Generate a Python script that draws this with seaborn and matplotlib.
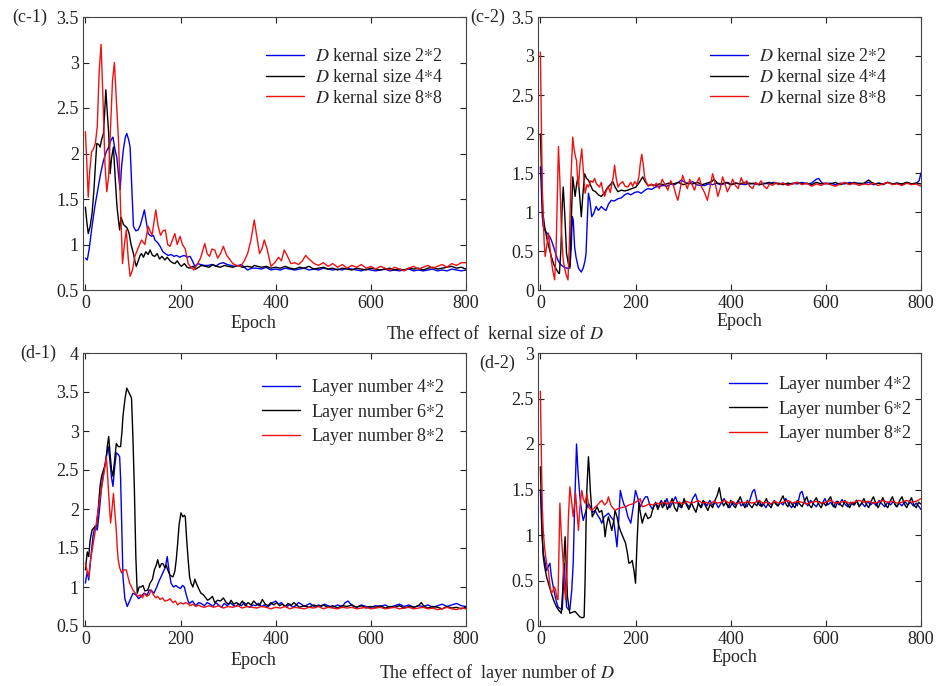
import pandas as pd
import seaborn as sns
import matplotlib.pyplot as plt
from matplotlib.ticker import FuncFormatter, MultipleLocator

# (epoch, loss)
c1_blue = [(0,0.85),(4,0.83),(8,0.95),(14,1.2),(20,1.42),(26,1.6),(32,1.78),(38,1.92),(44,2.02),(49,2.07),(54,2.15),(58,2.18),(62,2.05),(66,1.96),(70,1.75),(73,1.6),(76,1.85),(80,2.05),(84,2.18),(87,2.22),(91,2.15),(94,2.07),(97,1.7),(101,1.2),(106,1.15),(111,1.16),(116,1.22),(120,1.3),(124,1.38),(128,1.25),(132,1.12),(136,1.1),(139,1.09),(143,1.1),(146,1.05),(152,1.02),(157,0.98),(163,0.92),(168,0.9),(174,0.88),(180,0.89),(186,0.87),(192,0.88),(198,0.86),(202,0.87),(208,0.88),(214,0.86),(220,0.87),(225,0.82),(230,0.76),(236,0.79),(242,0.78),(250,0.77),(258,0.77),(266,0.78),(274,0.76),(282,0.79),(290,0.8),(298,0.78),(306,0.77),(314,0.76),(322,0.77),(328,0.78),(334,0.75),(341,0.72),(350,0.74),(360,0.74),(370,0.73),(380,0.75),(390,0.72),(400,0.73),(410,0.72),(420,0.74),(430,0.73),(440,0.72),(450,0.73),(460,0.74),(470,0.72),(480,0.73),(490,0.72),(500,0.74),(510,0.73),(520,0.72),(530,0.73),(540,0.72),(550,0.74),(560,0.73),(570,0.72),(580,0.71),(590,0.73),(600,0.72),(610,0.71),(620,0.72),(630,0.73),(640,0.71),(650,0.72),(660,0.71),(670,0.72),(680,0.73),(690,0.71),(700,0.72),(710,0.71),(720,0.72),(730,0.73),(740,0.71),(750,0.72),(760,0.71),(770,0.73),(780,0.72),(790,0.71),(800,0.72)]
c1_black = [(0,1.41),(3,1.25),(6,1.12),(10,1.2),(14,1.34),(18,1.6),(22,1.95),(24,2.11),(28,2.1),(31,2.07),(34,2.15),(38,2.22),(41,2.5),(43,2.7),(46,2.45),(49,2.22),(52,1.78),(55,1.95),(59,2.07),(63,1.7),(66,1.45),(68,1.34),(72,1.16),(75,1.3),(77,1.27),(80,1.22),(84,1.2),(88,1.18),(92,1.12),(96,1.0),(101,0.9),(104,0.82),(107,0.76),(111,0.82),(115,0.88),(118,0.9),(122,0.86),(127,0.92),(132,0.89),(136,0.94),(141,0.88),(146,0.87),(151,0.9),(156,0.84),(161,0.87),(167,0.83),(172,0.86),(178,0.82),(183,0.8),(188,0.79),(193,0.82),(198,0.78),(202,0.76),(208,0.79),(214,0.75),(220,0.74),(226,0.76),(232,0.73),(238,0.75),(244,0.77),(252,0.76),(260,0.75),(268,0.78),(276,0.76),(284,0.75),(292,0.77),(300,0.76),(310,0.75),(320,0.77),(330,0.75),(340,0.76),(350,0.75),(355,0.77),(362,0.76),(370,0.75),(380,0.76),(390,0.74),(400,0.75),(410,0.74),(420,0.76),(430,0.74),(440,0.73),(450,0.75),(460,0.74),(470,0.76),(480,0.73),(490,0.74),(500,0.75),(510,0.73),(520,0.74),(530,0.72),(540,0.74),(550,0.73),(560,0.72),(570,0.74),(580,0.73),(590,0.72),(600,0.74),(610,0.73),(620,0.72),(630,0.73),(640,0.74),(650,0.72),(660,0.73),(670,0.72),(680,0.74),(690,0.73),(700,0.74),(710,0.72),(720,0.74),(730,0.75),(740,0.73),(750,0.74),(760,0.75),(770,0.76),(780,0.74),(790,0.75),(800,0.73)]
c1_red = [(0,2.24),(3,1.9),(6,1.52),(9,1.8),(13,2.02),(17,2.05),(21,2.11),(25,2.3),(29,2.9),(33,3.2),(37,2.6),(41,1.9),(45,1.58),(49,1.75),(53,2.3),(57,2.8),(61,3.0),(65,2.6),(70,2.1),(74,1.4),(78,0.79),(82,1.0),(86,1.16),(90,0.85),(94,0.65),(99,0.72),(104,0.87),(110,0.95),(118,1.05),(125,1.0),(132,1.2),(140,1.1),(148,1.38),(153,1.2),(158,1.1),(163,1.15),(168,1.16),(173,1.0),(178,0.98),(183,1.05),(188,1.12),(193,1.0),(199,1.09),(204,1.0),(210,0.95),(216,0.79),(222,0.75),(228,0.72),(235,0.78),(242,0.85),(251,1.01),(256,0.9),(261,0.87),(266,0.95),(272,0.94),(278,0.85),(284,0.9),(290,0.98),(297,0.88),(303,0.84),(310,0.79),(318,0.77),(326,0.76),(334,0.82),(341,0.9),(348,1.05),(355,1.27),(360,1.1),(366,0.9),(371,0.95),(376,1.05),(382,0.95),(390,0.76),(398,0.8),(406,0.86),(412,0.82),(418,0.94),(424,0.88),(432,0.79),(440,0.8),(448,0.78),(456,0.82),(463,0.88),(470,0.84),(481,0.79),(490,0.77),(500,0.8),(510,0.76),(520,0.79),(530,0.75),(540,0.78),(550,0.74),(560,0.77),(570,0.75),(580,0.78),(590,0.74),(600,0.76),(610,0.73),(620,0.76),(630,0.74),(640,0.72),(650,0.75),(660,0.73),(670,0.71),(680,0.74),(690,0.76),(700,0.73),(710,0.75),(720,0.77),(730,0.74),(740,0.76),(750,0.78),(760,0.75),(770,0.79),(780,0.77),(790,0.8),(800,0.8)]

c2_blue = [(0,1.58),(2,1.3),(4,0.95),(6,0.81),(10,0.76),(15,0.72),(20,0.68),(23,0.64),(28,0.55),(33,0.45),(37,0.38),(42,0.33),(48,0.3),(55,0.28),(62,0.28),(65,0.55),(67,0.94),(69,0.9),(72,0.55),(75,0.42),(80,0.28),(86,0.23),(90,0.28),(94,0.38),(96,0.47),(98,0.8),(101,1.24),(104,1.15),(108,0.94),(112,0.98),(117,1.07),(122,1.02),(128,1.07),(133,1.04),(138,1.02),(143,1.1),(149,1.15),(155,1.14),(163,1.17),(170,1.18),(177,1.22),(184,1.24),(190,1.22),(198,1.25),(205,1.26),(212,1.24),(220,1.28),(226,1.3),(234,1.29),(242,1.32),(250,1.33),(258,1.34),(266,1.33),(274,1.36),(282,1.35),(290,1.38),(296,1.41),(304,1.38),(312,1.36),(320,1.39),(328,1.35),(336,1.34),(345,1.34),(354,1.36),(362,1.35),(370,1.37),(378,1.35),(386,1.36),(394,1.38),(402,1.35),(410,1.37),(420,1.36),(430,1.35),(440,1.37),(450,1.36),(460,1.35),(470,1.37),(480,1.36),(490,1.38),(500,1.36),(510,1.37),(520,1.35),(530,1.37),(540,1.36),(550,1.38),(560,1.36),(570,1.37),(580,1.42),(585,1.43),(592,1.37),(600,1.36),(610,1.37),(620,1.35),(630,1.37),(640,1.36),(650,1.38),(660,1.36),(670,1.37),(680,1.36),(690,1.38),(700,1.35),(710,1.37),(720,1.36),(730,1.38),(740,1.36),(750,1.37),(760,1.35),(770,1.38),(780,1.36),(790,1.37),(796,1.4),(800,1.5)]
c2_black = [(0,2.0),(2,1.6),(5,1.0),(9,0.81),(14,0.65),(18,0.55),(23,0.43),(28,0.33),(34,0.26),(38,0.22),(40,0.21),(43,0.5),(46,1.1),(48,1.32),(51,1.0),(55,0.47),(59,0.33),(62,0.3),(65,0.9),(68,1.45),(71,1.3),(73,1.2),(76,1.35),(79,1.45),(82,1.25),(86,0.94),(89,1.2),(93,1.49),(97,1.43),(101,1.41),(105,1.35),(110,1.28),(116,1.26),(122,1.22),(128,1.2),(134,1.24),(142,1.32),(147,1.35),(152,1.39),(157,1.32),(163,1.26),(170,1.28),(177,1.27),(184,1.28),(192,1.3),(201,1.32),(208,1.38),(215,1.45),(220,1.39),(226,1.34),(234,1.35),(242,1.34),(250,1.36),(260,1.35),(270,1.37),(280,1.36),(290,1.38),(300,1.35),(310,1.37),(320,1.36),(330,1.38),(340,1.35),(350,1.37),(360,1.39),(365,1.42),(372,1.37),(380,1.36),(390,1.38),(400,1.35),(410,1.37),(420,1.36),(430,1.38),(440,1.36),(450,1.37),(460,1.35),(470,1.36),(480,1.38),(490,1.36),(500,1.37),(510,1.35),(520,1.37),(530,1.36),(540,1.38),(550,1.36),(560,1.37),(570,1.35),(580,1.38),(590,1.36),(600,1.37),(610,1.36),(620,1.38),(630,1.35),(640,1.37),(650,1.36),(660,1.38),(670,1.36),(680,1.37),(690,1.41),(696,1.38),(704,1.36),(712,1.37),(720,1.35),(730,1.38),(740,1.36),(750,1.37),(760,1.36),(770,1.38),(780,1.36),(790,1.37),(800,1.36)]
c2_red = [(0,3.05),(2,2.2),(4,1.3),(6,0.94),(8,0.6),(10,0.43),(13,0.55),(17,0.73),(20,0.55),(23,0.38),(26,0.25),(30,0.13),(33,0.5),(36,1.3),(38,1.84),(41,1.4),(44,0.8),(48,0.38),(52,0.25),(55,0.18),(58,0.13),(61,0.6),(64,1.4),(68,1.96),(71,1.8),(74,1.7),(76,1.66),(78,1.45),(80,1.32),(83,1.6),(87,1.81),(90,1.55),(94,1.24),(98,1.35),(101,1.32),(106,1.4),(110,1.38),(114,1.43),(118,1.36),(124,1.32),(128,1.38),(132,1.25),(135,1.2),(139,1.28),(143,1.32),(147,1.25),(150,1.35),(153,1.45),(156,1.6),(159,1.45),(163,1.32),(167,1.36),(173,1.39),(178,1.33),(184,1.32),(190,1.38),(194,1.33),(198,1.39),(203,1.35),(207,1.45),(210,1.62),(213,1.74),(216,1.62),(219,1.45),(222,1.39),(227,1.33),(233,1.36),(238,1.33),(244,1.37),(250,1.3),(256,1.42),(262,1.35),(268,1.28),(274,1.4),(280,1.33),(285,1.22),(289,1.15),(294,1.3),(299,1.47),(304,1.38),(309,1.3),(314,1.42),(319,1.35),(324,1.28),(329,1.38),(334,1.44),(339,1.32),(345,1.25),(351,1.15),(356,1.3),(362,1.49),(367,1.38),(373,1.2),(378,1.3),(383,1.45),(388,1.36),(393,1.26),(398,1.32),(404,1.42),(410,1.34),(416,1.3),(422,1.44),(428,1.36),(434,1.4),(440,1.33),(446,1.3),(452,1.38),(458,1.35),(464,1.4),(470,1.33),(476,1.3),(482,1.36),(488,1.34),(494,1.38),(500,1.35),(510,1.37),(520,1.34),(530,1.36),(540,1.38),(550,1.35),(560,1.37),(570,1.33),(580,1.36),(590,1.34),(600,1.37),(610,1.35),(620,1.33),(630,1.36),(640,1.38),(650,1.35),(660,1.37),(670,1.34),(680,1.36),(690,1.35),(700,1.37),(710,1.34),(720,1.36),(730,1.38),(740,1.35),(750,1.36),(760,1.34),(770,1.37),(780,1.35),(790,1.36),(800,1.33)]

d1_blue = [(0,1.05),(4,1.2),(7,1.09),(11,1.35),(16,1.65),(20,1.78),(25,1.73),(29,1.95),(34,2.29),(38,2.45),(42,2.6),(46,2.75),(48,2.8),(51,2.65),(55,2.4),(58,2.29),(61,2.5),(65,2.72),(69,2.7),(72,2.67),(74,2.4),(76,1.9),(79,1.13),(83,0.85),(88,0.75),(93,0.82),(100,0.92),(106,0.9),(112,0.85),(117,0.88),(123,0.92),(130,0.9),(134,0.96),(138,0.96),(144,0.92),(150,1.0),(155,1.08),(159,1.13),(164,1.2),(168,1.25),(172,1.39),(176,1.2),(180,1.05),(185,1.0),(190,1.02),(194,1.0),(200,0.98),(204,1.02),(208,1.0),(212,0.9),(216,0.82),(219,0.79),(225,0.82),(232,0.76),(238,0.8),(243,0.79),(250,0.76),(256,0.8),(262,0.78),(268,0.75),(274,0.8),(280,0.77),(286,0.74),(292,0.79),(298,0.76),(304,0.8),(310,0.77),(316,0.75),(322,0.78),(328,0.76),(334,0.8),(340,0.75),(346,0.74),(352,0.77),(358,0.76),(364,0.79),(370,0.75),(376,0.77),(382,0.74),(388,0.77),(394,0.8),(400,0.82),(406,0.78),(412,0.8),(418,0.76),(424,0.75),(430,0.78),(436,0.74),(442,0.76),(448,0.8),(454,0.78),(460,0.75),(466,0.77),(472,0.79),(478,0.76),(484,0.74),(490,0.77),(496,0.75),(502,0.78),(510,0.76),(520,0.74),(530,0.77),(540,0.75),(546,0.8),(552,0.82),(558,0.78),(564,0.75),(570,0.74),(580,0.77),(590,0.75),(600,0.74),(610,0.76),(620,0.75),(630,0.77),(640,0.74),(650,0.76),(660,0.78),(670,0.75),(680,0.77),(690,0.74),(700,0.76),(710,0.75),(720,0.77),(730,0.74),(740,0.76),(750,0.78),(760,0.75),(770,0.77),(780,0.79),(790,0.76),(800,0.75)]
d1_black = [(0,1.22),(4,1.45),(7,1.39),(10,1.6),(14,1.73),(18,1.76),(23,1.78),(27,2.0),(31,2.3),(34,2.42),(38,2.5),(43,2.59),(46,2.8),(49,2.93),(52,2.7),(55,2.5),(58,2.42),(61,2.6),(65,2.84),(69,2.8),(74,2.8),(77,3.0),(79,3.19),(83,3.4),(87,3.55),(91,3.5),(95,3.45),(97,3.42),(100,2.9),(103,2.25),(106,1.4),(109,0.92),(113,1.0),(117,1.0),(121,1.02),(125,0.95),(131,0.96),(136,1.05),(141,1.1),(145,1.22),(149,1.28),(152,1.35),(156,1.25),(160,1.3),(163,1.3),(167,1.25),(170,1.28),(173,1.22),(178,1.15),(184,1.13),(188,1.2),(191,1.35),(194,1.56),(197,1.8),(201,1.95),(205,1.9),(208,1.92),(210,1.9),(213,1.6),(216,1.35),(219,1.13),(222,1.05),(226,1.0),(230,1.1),(233,1.05),(238,0.98),(243,0.92),(248,0.9),(253,0.86),(257,0.83),(262,0.85),(267,0.88),(272,0.8),(278,0.83),(284,0.82),(290,0.86),(296,0.8),(302,0.78),(306,0.83),(312,0.78),(318,0.8),(324,0.77),(330,0.82),(336,0.76),(342,0.8),(348,0.77),(354,0.82),(360,0.78),(366,0.76),(372,0.84),(378,0.78),(384,0.76),(390,0.8),(396,0.77),(402,0.8),(408,0.76),(414,0.78),(420,0.75),(426,0.79),(432,0.76),(438,0.8),(444,0.77),(450,0.74),(460,0.76),(470,0.74),(480,0.77),(490,0.75),(500,0.77),(510,0.74),(520,0.76),(530,0.73),(540,0.76),(550,0.75),(560,0.77),(570,0.74),(580,0.76),(590,0.73),(600,0.75),(610,0.74),(620,0.76),(630,0.73),(640,0.75),(650,0.74),(660,0.76),(670,0.73),(680,0.75),(690,0.74),(700,0.76),(706,0.8),(712,0.75),(720,0.73),(730,0.75),(740,0.74),(750,0.72),(760,0.75),(770,0.73),(780,0.74),(790,0.72),(800,0.74)]
d1_red = [(0,1.3),(4,1.2),(7,1.13),(11,1.35),(15,1.5),(20,1.69),(25,1.9),(30,2.12),(35,2.3),(40,2.5),(44,2.67),(46,2.5),(48,2.29),(51,2.0),(53,1.82),(56,2.0),(59,2.2),(62,1.95),(65,1.73),(67,1.5),(69,1.35),(72,1.25),(76,1.18),(80,1.22),(86,1.22),(90,1.12),(93,1.05),(97,1.0),(100,0.96),(105,0.92),(110,0.88),(116,0.9),(120,0.86),(124,0.92),(129,0.88),(134,0.9),(138,0.96),(143,0.9),(148,0.86),(152,0.88),(157,0.84),(162,0.86),(167,0.82),(173,0.83),(178,0.85),(184,0.8),(189,0.82),(194,0.77),(200,0.8),(206,0.78),(210,0.8),(215,0.79),(220,0.76),(226,0.78),(232,0.75),(238,0.77),(243,0.75),(250,0.74),(260,0.76),(270,0.74),(280,0.76),(290,0.73),(300,0.75),(310,0.74),(320,0.76),(330,0.73),(340,0.75),(350,0.74),(360,0.73),(370,0.75),(380,0.74),(390,0.72),(400,0.74),(410,0.73),(420,0.75),(430,0.72),(440,0.74),(450,0.73),(460,0.72),(470,0.74),(480,0.73),(490,0.75),(500,0.72),(510,0.74),(520,0.73),(530,0.72),(540,0.74),(550,0.73),(560,0.74),(570,0.72),(580,0.73),(590,0.74),(600,0.72),(610,0.73),(620,0.74),(630,0.72),(640,0.73),(650,0.74),(660,0.72),(670,0.73),(680,0.74),(690,0.72),(700,0.73),(710,0.74),(720,0.72),(730,0.73),(740,0.71),(750,0.72),(760,0.74),(770,0.72),(780,0.71),(790,0.73),(800,0.72)]

d2_blue = [(0,1.5),(2,1.2),(4,0.95),(6,0.8),(10,0.7),(13,0.61),(17,0.66),(20,0.69),(23,0.55),(27,0.43),(32,0.3),(37,0.21),(42,0.19),(46,0.18),(48,0.4),(50,0.69),(52,0.5),(55,0.21),(59,0.18),(62,0.18),(66,0.4),(69,0.69),(72,1.3),(76,2.0),(79,1.7),(83,1.42),(87,1.25),(90,1.16),(95,1.25),(101,1.35),(106,1.3),(110,1.25),(115,1.27),(120,1.22),(125,1.18),(129,1.13),(134,1.2),(139,1.22),(143,1.24),(148,1.2),(154,1.16),(158,1.0),(161,0.87),(164,1.1),(168,1.49),(172,1.4),(176,1.33),(179,1.31),(184,1.2),(190,1.13),(195,1.3),(200,1.49),(205,1.4),(210,1.31),(216,1.38),(221,1.42),(225,1.42),(230,1.33),(236,1.28),(242,1.36),(248,1.3),(254,1.38),(260,1.32),(266,1.4),(272,1.3),(278,1.36),(284,1.42),(290,1.33),(296,1.3),(302,1.38),(308,1.34),(314,1.3),(320,1.4),(326,1.45),(332,1.35),(338,1.3),(344,1.37),(350,1.32),(356,1.38),(362,1.33),(368,1.36),(374,1.3),(380,1.35),(386,1.4),(392,1.34),(398,1.3),(404,1.36),(410,1.33),(416,1.38),(422,1.32),(428,1.35),(434,1.31),(440,1.38),(446,1.48),(450,1.5),(456,1.36),(462,1.32),(468,1.35),(474,1.3),(480,1.36),(486,1.33),(492,1.38),(498,1.32),(504,1.36),(510,1.33),(516,1.4),(522,1.34),(528,1.3),(534,1.36),(540,1.32),(546,1.46),(550,1.48),(556,1.36),(562,1.32),(568,1.38),(574,1.34),(580,1.31),(586,1.37),(592,1.34),(598,1.4),(604,1.33),(610,1.36),(616,1.31),(622,1.37),(628,1.33),(634,1.39),(640,1.34),(646,1.31),(652,1.36),(658,1.33),(664,1.38),(670,1.32),(676,1.35),(682,1.31),(688,1.37),(694,1.33),(700,1.36),(706,1.32),(712,1.38),(718,1.34),(724,1.31),(730,1.36),(736,1.33),(742,1.37),(748,1.31),(754,1.35),(760,1.32),(766,1.37),(772,1.33),(778,1.36),(784,1.32),(790,1.35),(796,1.31),(800,1.28)]
d2_black = [(0,1.75),(2,1.4),(4,1.0),(6,0.76),(9,0.65),(13,0.54),(18,0.45),(23,0.36),(28,0.28),(34,0.21),(39,0.17),(44,0.14),(47,0.4),(50,0.8),(52,0.98),(54,0.7),(57,0.32),(60,0.2),(62,0.14),(67,0.15),(73,0.16),(78,0.13),(83,0.1),(88,0.09),(92,0.1),(94,0.5),(97,1.42),(101,1.86),(103,1.7),(105,1.49),(109,1.2),(114,1.25),(119,1.31),(124,1.25),(129,1.27),(133,1.15),(136,0.98),(139,1.1),(143,1.2),(147,1.12),(150,1.05),(154,1.15),(157,1.27),(161,1.2),(165,1.1),(168,1.05),(172,1.0),(176,0.95),(179,0.91),(183,0.8),(186,0.69),(190,0.7),(193,0.72),(197,0.6),(200,0.47),(203,0.9),(207,1.35),(210,1.25),(214,1.13),(218,1.2),(221,1.24),(226,1.18),(232,1.2),(237,1.3),(242,1.35),(247,1.28),(252,1.36),(257,1.3),(262,1.38),(267,1.28),(272,1.34),(277,1.4),(282,1.3),(287,1.26),(292,1.36),(297,1.3),(302,1.4),(307,1.33),(312,1.28),(317,1.36),(322,1.3),(327,1.25),(332,1.35),(337,1.3),(342,1.38),(347,1.32),(352,1.27),(357,1.34),(362,1.3),(367,1.38),(372,1.44),(376,1.52),(380,1.4),(385,1.32),(390,1.36),(395,1.3),(400,1.38),(405,1.33),(410,1.3),(415,1.36),(420,1.42),(425,1.35),(430,1.3),(435,1.38),(440,1.33),(445,1.3),(450,1.35),(455,1.32),(460,1.38),(465,1.31),(470,1.35),(475,1.4),(480,1.33),(485,1.3),(490,1.37),(495,1.34),(500,1.32),(505,1.38),(510,1.43),(515,1.35),(520,1.31),(525,1.37),(530,1.33),(535,1.3),(540,1.38),(545,1.34),(550,1.31),(555,1.37),(560,1.42),(565,1.33),(570,1.3),(575,1.37),(580,1.41),(585,1.34),(590,1.3),(595,1.36),(600,1.32),(605,1.38),(610,1.42),(615,1.33),(620,1.3),(625,1.37),(630,1.34),(635,1.31),(640,1.38),(645,1.34),(650,1.3),(655,1.36),(660,1.33),(665,1.38),(670,1.31),(675,1.35),(680,1.4),(685,1.34),(690,1.3),(695,1.37),(700,1.42),(705,1.35),(710,1.3),(715,1.36),(720,1.41),(725,1.33),(730,1.3),(735,1.37),(740,1.42),(745,1.34),(750,1.31),(755,1.38),(760,1.42),(765,1.34),(770,1.3),(775,1.36),(780,1.41),(785,1.33),(790,1.3),(795,1.36),(800,1.34)]
d2_red = [(0,2.58),(2,1.9),(4,1.3),(6,1.05),(9,0.85),(13,0.69),(17,0.6),(20,0.45),(23,0.36),(26,0.38),(29,0.43),(32,0.4),(35,0.3),(37,0.29),(39,0.8),(41,1.35),(44,1.0),(48,0.69),(51,0.4),(53,0.29),(56,0.6),(59,1.2),(62,1.53),(66,1.35),(69,1.2),(72,1.35),(74,1.46),(77,1.25),(80,1.05),(83,1.3),(87,1.49),(90,1.4),(94,1.35),(98,1.45),(102,1.3),(108,1.27),(114,1.3),(120,1.33),(125,1.36),(129,1.38),(135,1.33),(140,1.36),(143,1.42),(148,1.33),(152,1.3),(157,1.27),(163,1.29),(170,1.3),(179,1.31),(186,1.33),(193,1.34),(200,1.36),(206,1.38),(210,1.4),(214,1.31),(220,1.32),(228,1.34),(236,1.33),(244,1.35),(252,1.34),(260,1.36),(268,1.34),(276,1.37),(284,1.35),(292,1.36),(300,1.34),(308,1.37),(316,1.35),(324,1.36),(332,1.38),(340,1.35),(348,1.36),(356,1.34),(364,1.37),(372,1.35),(380,1.36),(388,1.38),(396,1.35),(404,1.37),(412,1.34),(420,1.36),(428,1.35),(436,1.37),(444,1.35),(452,1.36),(460,1.38),(468,1.35),(476,1.36),(484,1.34),(492,1.37),(500,1.35),(510,1.36),(520,1.38),(530,1.35),(540,1.37),(550,1.36),(560,1.34),(570,1.36),(580,1.37),(590,1.35),(600,1.36),(610,1.38),(620,1.35),(630,1.36),(640,1.37),(650,1.35),(660,1.36),(670,1.38),(680,1.36),(690,1.37),(700,1.35),(710,1.36),(720,1.38),(730,1.36),(740,1.37),(750,1.35),(760,1.36),(770,1.38),(780,1.36),(790,1.37),(800,1.4)]

kernel_labels = [r'$D$ kernal size 2$*$2', r'$D$ kernal size 4$*$4', r'$D$ kernal size 8$*$8']
layer_labels = ['Layer number 4$*$2', 'Layer number 6$*$2', 'Layer number 8$*$2']
line_colors = ['#0000ee', '#000000', '#ee1111']

sns.set_theme(style='ticks')
plt.rcParams['font.family'] = ['Liberation Serif', 'DejaVu Serif']
plt.rcParams['mathtext.fontset'] = 'stix'


def to_frame(series, labels):
    rows = []
    for lab, pts in zip(labels, series):
        for ep, val in pts:
            rows.append((lab, ep, val))
    return pd.DataFrame(rows, columns=['series', 'Epoch', 'Loss'])


W, H = 942, 686
fig = plt.figure(figsize=(W / 100, H / 100), dpi=100)

panels = [
    # series, labels, axes box px (left, top, right, bottom), ylim, legend anchor, xlabel coords
    ([c1_blue, c1_black, c1_red], kernel_labels, (83, 17, 466, 290), (0.5, 3.5), (0.478, 0.885), (0.444, -0.123)),
    ([c2_blue, c2_black, c2_red], kernel_labels, (538, 17, 921, 290), (0, 3.5), (0.449, 0.885), (0.527, -0.115)),
    ([d1_blue, d1_black, d1_red], layer_labels, (83, 353, 466, 626), (0.5, 4), (0.467, 0.912), (0.444, -0.125)),
    ([d2_blue, d2_black, d2_red], layer_labels, (538, 353, 921, 626), (0, 3), (0.499, 0.923), (0.514, -0.117)),
]

for series, labels, box, ylim, leg_xy, xl_xy in panels:
    l, t, r, b = box
    ax = fig.add_axes([l / W, 1 - b / H, (r - l) / W, (b - t) / H])
    df = to_frame(series, labels)
    sns.lineplot(data=df, x='Epoch', y='Loss', hue='series', hue_order=labels,
                 palette=line_colors, estimator=None, sort=False, linewidth=1.0,
                 legend=False, ax=ax)
    ax.set_xlim(-5, 800)
    ax.set_ylim(*ylim)
    ax.xaxis.set_major_locator(MultipleLocator(200))
    ax.yaxis.set_major_locator(MultipleLocator(0.5))
    ax.yaxis.set_major_formatter(FuncFormatter(lambda v, p: f'{v:g}'))
    ax.tick_params(direction='in', top=True, right=True, length=4, width=0.8,
                   labelsize=13, colors='#222222')
    ax.tick_params(axis='x', pad=3.5)
    ax.tick_params(axis='y', pad=3)
    for sp in ax.spines.values():
        sp.set_linewidth(0.8)
        sp.set_color('#444444')
    ax.set_ylabel('')
    ax.set_xlabel('Epoch', fontsize=13)
    ax.xaxis.set_label_coords(*xl_xy)
    ax.xaxis.label.set_va('center')
    handles = ax.get_lines()[:3]
    ax.legend(handles, labels, loc='upper left', bbox_to_anchor=leg_xy, frameon=False,
              fontsize=13, handlelength=2.1, handletextpad=0.6, labelspacing=0.2,
              borderpad=0, borderaxespad=0)

fig.text(30 / W, 1 - 17 / H, '(c-1)', ha='center', va='center', fontsize=13)
fig.text(488 / W, 1 - 17 / H, '(c-2)', ha='center', va='center', fontsize=13)
fig.text(38 / W, 1 - 353 / H, '(d-1)', ha='center', va='center', fontsize=13)
fig.text(497 / W, 1 - 363 / H, '(d-2)', ha='center', va='center', fontsize=13)
fig.text(495 / W, 1 - 334 / H, r'The effect of  kernal size of $D$', ha='center', va='center', fontsize=13)
fig.text(497 / W, 1 - 673 / H, r'The effect of  layer number of $D$', ha='center', va='center', fontsize=13)

fig.savefig('out.png', dpi=100, facecolor='white')
